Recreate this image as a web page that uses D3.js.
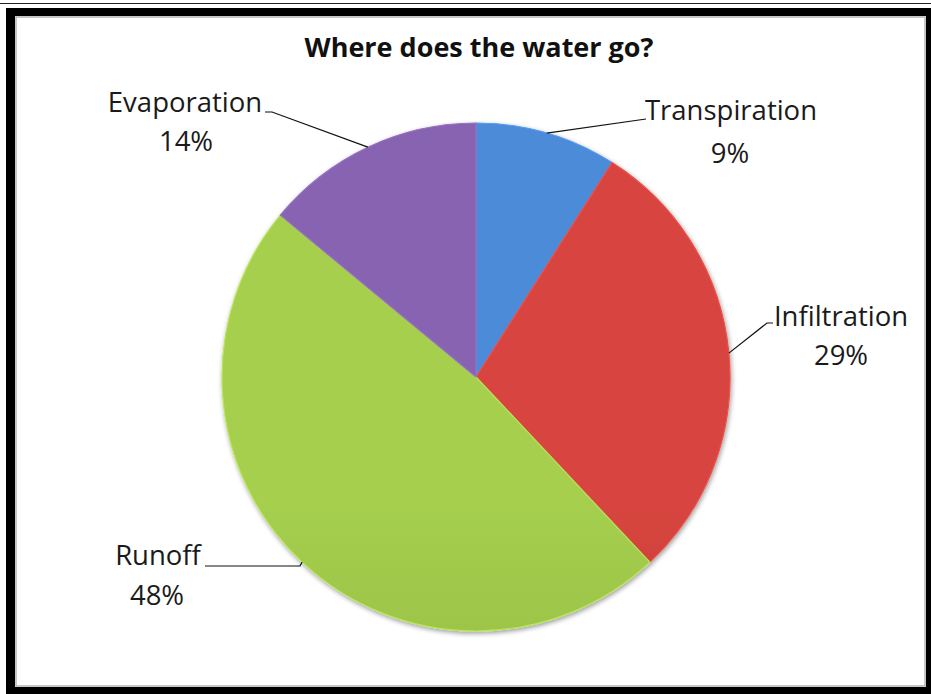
<!DOCTYPE html>
<html>
<head>
<meta charset="utf-8">
<script src="https://cdn.jsdelivr.net/npm/d3@7"></script>
<style>
  html, body { margin: 0; padding: 0; background: #fff; }
  svg { display: block; }
</style>
</head>
<body>
<svg id="chart" width="931" height="694"></svg>
<script>
const title = "Where does the water go?";
const categories = ["Transpiration", "Infiltration", "Runoff", "Evaporation"];
const values = [9, 29, 48, 14];
const colorsLight = ["#4c8bd8", "#d8453f", "#a5cf4e", "#8764b1"];
const colorsDark  = ["#3a6db3", "#a33331", "#85a93e", "#6a4a92"];

const W = 931, H = 694;
const cx = 476, cy = 377, R = 254;

const svg = d3.select("#chart");

// frame
svg.append("line").attr("x1", 0).attr("x2", W).attr("y1", 3.5).attr("y2", 3.5)
  .attr("stroke", "#222").attr("stroke-width", 1.2);
svg.append("path")
  .attr("fill", "#000").attr("fill-rule", "evenodd")
  .attr("d", `M6,8H${W}V${H}H6Z M15,16V687H926V16Z`);
svg.append("rect").attr("x", 16).attr("y", 17).attr("width", 909).attr("height", 669)
  .attr("fill", "none").attr("stroke", "#b5b5b5").attr("stroke-width", 1.5);

// defs
const defs = svg.append("defs");
categories.forEach((c, i) => {
  const g = defs.append("linearGradient").attr("id", "grad" + i)
    .attr("gradientUnits", "userSpaceOnUse")
    .attr("x1", cx).attr("x2", cx).attr("y1", cy - R).attr("y2", cy + R);
  g.append("stop").attr("offset", "0%").attr("stop-color", colorsLight[i]);
  g.append("stop").attr("offset", "100%").attr("stop-color", colorsDark[i]);
});
const f = defs.append("filter").attr("id", "shadow")
  .attr("x", "-10%").attr("y", "-10%").attr("width", "120%").attr("height", "120%");
f.append("feGaussianBlur").attr("in", "SourceAlpha").attr("stdDeviation", 2.5).attr("result", "b");
f.append("feOffset").attr("in", "b").attr("dx", 1).attr("dy", 2).attr("result", "o");
f.append("feComponentTransfer").attr("in", "o").attr("result", "o2")
  .append("feFuncA").attr("type", "linear").attr("slope", 0.4);
const m = f.append("feMerge");
m.append("feMergeNode").attr("in", "o2");
m.append("feMergeNode").attr("in", "SourceGraphic");

// pie
const pie = d3.pie().sort(null).value(d => d)(values);
const arc = d3.arc().innerRadius(0).outerRadius(R);
const g = svg.append("g").attr("transform", `translate(${cx},${cy})`).attr("filter", "url(#shadow)");
g.selectAll("path.slice").data(pie).join("path")
  .attr("class", "slice")
  .attr("d", arc)
  .attr("fill", (d, i) => `url(#grad${i})`)
  .attr("stroke", (d, i) => d3.color(colorsLight[i]).brighter(0.3))
  .attr("stroke-width", 1.2)
  .attr("stroke-linejoin", "round");

// title
svg.append("text").attr("x", 479).attr("y", 57).attr("text-anchor", "middle")
  .attr("font-family", "'Open Sans', sans-serif").attr("font-weight", "bold")
  .attr("font-size", 27).attr("fill", "#111").text(title);

// label layout
const layout = [
  { nx: 731, ny: 120, px: 730, py: 163, pts: [[646, 119]] },
  { nx: 841, ny: 326, px: 841, py: 365, pts: [[773, 323], [767, 323]] },
  { nx: 158, ny: 565, px: 157, py: 605, pts: [[205, 566], [300, 566]] },
  { nx: 185, ny: 112, px: 186, py: 151, pts: [[265, 112], [272, 112]] }
];
const fontLabel = "'Open Sans', sans-serif";
const edge = d3.arc().innerRadius(R).outerRadius(R);
const total = d3.sum(values);
pie.forEach((d, i) => {
  const L = layout[i];
  const c = edge.centroid(d);
  const pts = L.pts.concat([[cx + c[0], cy + c[1]]]);
  svg.append("path").attr("d", d3.line()(pts))
    .attr("fill", "none").attr("stroke", "#111").attr("stroke-width", 1.2);
  svg.append("text").attr("x", L.nx).attr("y", L.ny).attr("text-anchor", "middle")
    .attr("font-family", fontLabel).attr("font-size", 27.5).attr("fill", "#1a1a1a")
    .text(categories[i]);
  svg.append("text").attr("x", L.px).attr("y", L.py).attr("text-anchor", "middle")
    .attr("font-family", fontLabel).attr("font-size", 27.5).attr("fill", "#1a1a1a")
    .text(Math.round(values[i] / total * 100) + "%");
});
</script>
</body>
</html>
